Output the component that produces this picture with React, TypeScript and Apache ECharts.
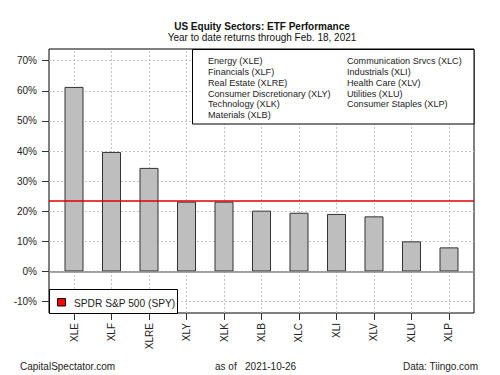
import React, { useEffect, useRef } from "react";
import * as echarts from "echarts";

const tickers = ["XLE", "XLF", "XLRE", "XLY", "XLK", "XLB", "XLC", "XLI", "XLV", "XLU", "XLP"];
const sectorNames = [
  "Energy (XLE)",
  "Financials (XLF)",
  "Real Estate (XLRE)",
  "Consumer Discretionary (XLY)",
  "Technology (XLK)",
  "Materials (XLB)",
  "Communication Srvcs (XLC)",
  "Industrials (XLI)",
  "Health Care (XLV)",
  "Utilities (XLU)",
  "Consumer Staples (XLP)",
];
const returns = [61.3, 39.7, 34.4, 23.2, 23.2, 20.2, 19.5, 19.1, 18.3, 10.0, 8.0];
const spyReturn = 23.4;
const yTicks = [-10, 0, 10, 20, 30, 40, 50, 60, 70];

const FONT = "'Liberation Sans', Arial, sans-serif";

export default function App() {
  const ref = useRef<HTMLDivElement>(null);
  useEffect(() => {
    document.body.style.margin = "0";
    const chart = echarts.init(ref.current!, null, { renderer: "svg" });
    const gridL = 49, gridT = 49, gridR = 474, gridB = 313;
    const gridStyle = { color: "#c4c4c4", type: [2, 2], width: 1 };
    const legendTexts: any[] = sectorNames.map((n, i) => ({
      type: "text",
      x: i < 6 ? 208 : 347,
      y: 61 + (i < 6 ? i : i - 6) * 10.85,
      z: 101,
      style: { text: n, font: `9.1px ${FONT}`, fill: "#222", textVerticalAlign: "middle" },
    }));
    chart.setOption({
      animation: false,
      tooltip: { show: false },
      axisPointer: { show: false },
      textStyle: { fontFamily: FONT },
      grid: {
        left: gridL,
        top: gridT,
        right: 500 - gridR,
        bottom: 375 - gridB,
        show: true,
        borderColor: "#000",
        borderWidth: 1,
        backgroundColor: "transparent",
        z: 0,
      },
      xAxis: {
        type: "value",
        position: "bottom",
        min: -0.6667,
        max: tickers.length - 1 + 0.6667,
        axisLine: { show: false, onZero: false },
        axisTick: { show: true, length: 7, lineStyle: { color: "#333" }, customValues: tickers.map((_, i) => i) },
        axisLabel: {
          customValues: tickers.map((_, i) => i),
          rotate: 90,
          margin: 10,
          fontSize: 10,
          color: "#222",
          fontFamily: FONT,
          formatter: (v: number) => tickers[Math.round(v)] ?? "",
        },
        splitLine: { show: false },
      },
      yAxis: {
        type: "value",
        position: "left",
        min: -13.8,
        max: 73.9,
        axisLine: { show: false, onZero: false },
        axisTick: { show: true, length: 7, lineStyle: { color: "#333" }, customValues: yTicks },
        axisLabel: {
          customValues: yTicks,
          margin: 12,
          fontSize: 10,
          color: "#222",
          fontFamily: FONT,
          formatter: (v: number) => `${v}%`,
        },
        splitLine: { show: false },
      },
      series: [
        {
          type: "line",
          data: [],
          z: 1,
          silent: true,
          markLine: {
            silent: true,
            z: 1,
            symbol: "none",
            label: { show: false },
            lineStyle: gridStyle,
            data: [
              ...yTicks.map((v) => ({ yAxis: v })),
              ...tickers.map((_, i) => ({ xAxis: i })),
            ],
          },
        },
        {
          type: "bar",
          z: 3,
          silent: true,
          label: { show: false },
          data: returns.map((v, i) => [i, v]),
          barWidth: 19,
          itemStyle: { color: "#BEBEBE", borderColor: "#333", borderWidth: 1 },
          markLine: {
            silent: true,
            z: 5,
            symbol: "none",
            label: { show: false },
            data: [
              { yAxis: 0, lineStyle: { color: "#888", width: 1.5, type: "solid" } },
              { yAxis: spyReturn, lineStyle: { color: "#e00000", width: 1.5, type: "solid" } },
            ],
          },
        },
      ],
      graphic: [
        {
          type: "text",
          x: 262,
          y: 26,
          style: { text: "US Equity Sectors: ETF Performance", font: `bold 10px ${FONT}`, fill: "#111", textAlign: "center", textVerticalAlign: "middle" },
        },
        {
          type: "text",
          x: 262,
          y: 37.5,
          style: { text: "Year to date returns through Feb. 18, 2021", font: `10px ${FONT}`, fill: "#111", textAlign: "center", textVerticalAlign: "middle" },
        },
        {
          type: "rect",
          z: 100,
          shape: { x: 192.5, y: 49.5, width: gridR - 192.5, height: 74.5 },
          style: { fill: "#fff", stroke: "#000", lineWidth: 1 },
        },
        ...legendTexts,
        {
          type: "rect",
          z: 100,
          shape: { x: 49.5, y: 289.5, width: 128, height: 24 },
          style: { fill: "#fff", stroke: "#000", lineWidth: 1 },
        },
        {
          type: "rect",
          z: 101,
          shape: { x: 57.5, y: 298.5, width: 8, height: 7.5 },
          style: { fill: "#ff0000", stroke: "#000", lineWidth: 1 },
        },
        {
          type: "text",
          z: 101,
          x: 74,
          y: 303,
          style: { text: "SPDR S&P 500 (SPY)", font: `10.2px ${FONT}`, fill: "#222", textVerticalAlign: "middle" },
        },
        {
          type: "text",
          x: 20,
          y: 366.5,
          style: { text: "CapitalSpectator.com", font: `10px ${FONT}`, fill: "#222", textVerticalAlign: "middle" },
        },
        {
          type: "text",
          x: 215,
          y: 366.5,
          style: { text: "as of   2021-10-26", font: `10px ${FONT}`, fill: "#222", textVerticalAlign: "middle" },
        },
        {
          type: "text",
          x: 478,
          y: 366.5,
          style: { text: "Data: Tiingo.com", font: `10px ${FONT}`, fill: "#222", textAlign: "right", textVerticalAlign: "middle" },
        },
      ],
    });
    return () => chart.dispose();
  }, []);
  return <div ref={ref} style={{ width: 500, height: 375 }} />;
}
